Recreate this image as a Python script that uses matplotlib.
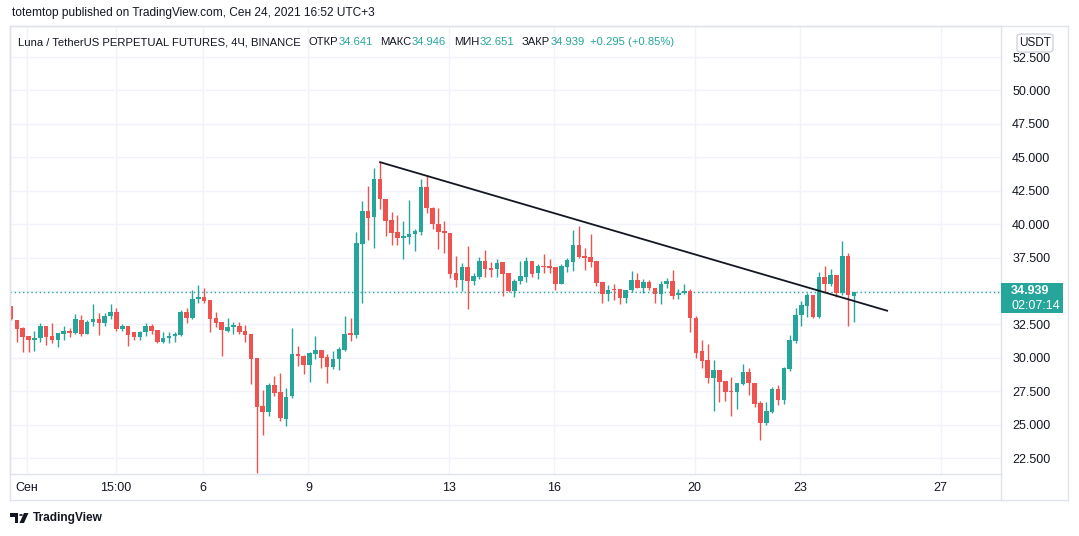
import matplotlib.pyplot as plt
import numpy as np
from matplotlib.patches import Rectangle, FancyBboxPatch, Circle, Polygon
from matplotlib.lines import Line2D

# 4H candles, LUNA/USDT perpetual, ~Aug 31 - Sep 24 2021
opens = [33.87, 32.83, 32.23, 31.63, 31.33, 31.45, 32.38, 31.60, 31.33, 31.80,
         32.00, 31.88, 32.83, 31.80, 32.70, 32.90, 32.63, 33.15, 33.40, 32.18,
         32.38, 31.90, 31.58, 31.90, 32.38, 32.10, 31.18, 31.48, 31.63, 31.70,
         33.40, 33.00, 34.40, 34.55, 34.33, 32.98, 32.70, 32.03, 32.33, 32.38,
         31.98, 31.78, 29.96, 26.40, 25.97, 27.94, 27.44, 25.40, 27.15, 30.30,
         30.12, 29.46, 30.30, 30.60, 30.03, 29.33, 29.90, 30.60, 31.88, 31.70,
         38.50, 40.98, 40.55, 43.37, 41.88, 40.30, 39.41, 38.99, 39.06, 39.26,
         39.43, 42.78, 41.23, 40.01, 39.51, 39.31, 36.36, 35.81, 36.76, 35.72,
         36.07, 37.24, 36.72, 36.67, 37.16, 36.36, 35.02, 35.72, 36.07, 37.24,
         36.32, 36.87, 36.87, 36.82, 35.52, 36.82, 37.16, 38.44, 37.61, 37.54,
         37.24, 35.69, 34.74, 35.14, 35.12, 34.50, 35.04, 35.82, 35.24, 35.69,
         35.24, 34.80, 35.52, 35.77, 34.67, 34.82, 34.97, 33.00, 30.51, 29.83,
         28.50, 29.08, 28.26, 27.51, 27.44, 28.04, 28.94, 28.14, 26.64, 25.15,
         25.97, 27.69, 26.84, 29.14, 31.26, 33.20, 33.90, 34.70, 33.08, 36.07,
         35.52, 36.22, 34.84, 37.61, 34.641]
highs = [33.90, 32.83, 32.30, 31.63, 32.00, 32.63, 32.38, 32.60, 31.85, 32.40,
         32.20, 33.30, 33.20, 32.83, 34.00, 33.35, 33.35, 34.00, 33.70, 32.50,
         32.38, 31.95, 32.00, 32.60, 32.50, 32.10, 31.90, 31.95, 31.90, 33.55,
         33.70, 35.10, 35.45, 35.20, 34.33, 33.40, 32.70, 32.95, 32.70, 32.70,
         32.45, 31.78, 30.00, 27.60, 28.10, 28.60, 28.85, 27.75, 32.25, 30.90,
         30.20, 30.40, 31.60, 30.60, 30.30, 30.50, 30.83, 33.15, 32.98, 39.43,
         41.70, 42.85, 44.17, 44.67, 41.88, 40.93, 40.68, 40.23, 41.80, 39.60,
         43.37, 43.67, 41.30, 41.18, 40.23, 39.31, 37.64, 37.10, 38.36, 36.32,
         37.52, 38.06, 37.19, 37.39, 37.16, 36.36, 35.87, 37.24, 37.52, 37.24,
         36.99, 37.74, 37.40, 36.82, 37.00, 37.49, 39.56, 39.86, 38.24, 39.26,
         37.24, 35.69, 35.44, 35.49, 35.12, 35.10, 36.49, 36.32, 35.89, 35.82,
         35.24, 35.74, 35.97, 36.57, 35.14, 35.52, 35.14, 33.13, 31.33, 31.00,
         29.83, 29.08, 28.26, 28.54, 28.11, 29.54, 29.21, 28.14, 26.79, 26.72,
         27.79, 27.99, 29.33, 31.70, 33.70, 34.27, 34.82, 34.72, 36.42, 36.87,
         36.64, 36.22, 38.74, 37.80, 34.946]
lows = [32.85, 31.18, 30.46, 30.46, 30.50, 31.18, 30.95, 31.10, 30.83, 31.33,
        31.55, 31.80, 31.60, 31.80, 32.40, 31.70, 32.40, 32.90, 32.03, 32.03,
        30.90, 31.30, 31.30, 31.65, 31.80, 31.08, 31.08, 31.10, 31.20, 31.60,
        32.60, 32.90, 34.10, 34.10, 31.95, 32.30, 30.10, 31.90, 31.80, 31.80,
        31.20, 28.05, 21.40, 24.20, 25.65, 27.15, 25.30, 24.90, 26.97, 29.35,
        28.80, 28.20, 29.90, 29.26, 28.14, 29.16, 29.10, 30.50, 31.28, 31.50,
        34.08, 38.80, 38.24, 41.10, 39.10, 38.44, 38.44, 37.41, 38.50, 38.00,
        39.18, 40.85, 39.60, 38.14, 37.80, 35.99, 35.32, 35.02, 33.63, 35.44,
        35.90, 36.07, 36.07, 36.07, 34.62, 34.90, 34.57, 35.52, 35.64, 36.07,
        35.87, 36.32, 36.32, 35.07, 35.50, 36.44, 36.49, 37.50, 36.57, 36.82,
        35.40, 34.12, 34.25, 34.32, 34.05, 34.12, 34.90, 35.20, 34.82, 35.07,
        34.12, 34.00, 35.20, 34.37, 34.37, 34.75, 31.95, 30.00, 29.26, 28.14,
        26.04, 26.72, 26.79, 25.67, 26.17, 27.94, 27.22, 26.34, 23.85, 24.97,
        25.90, 26.47, 26.57, 29.04, 31.13, 32.38, 33.08, 33.00, 33.00, 34.94,
        35.40, 34.57, 34.70, 32.38, 32.651]
closes = [32.90, 32.18, 31.58, 31.33, 31.48, 32.38, 31.58, 31.33, 31.85, 32.00,
          31.88, 32.90, 31.80, 32.70, 32.90, 32.63, 33.15, 33.40, 32.18, 32.38,
          31.73, 31.58, 31.90, 32.38, 32.03, 31.18, 31.48, 31.63, 31.78, 33.40,
          33.00, 34.40, 34.55, 34.27, 32.93, 32.63, 32.10, 32.33, 32.45, 31.95,
          31.70, 29.90, 26.34, 25.95, 27.94, 27.40, 25.50, 27.10, 30.30, 30.10,
          29.46, 30.38, 30.60, 30.00, 29.33, 29.90, 30.66, 31.78, 31.73, 38.60,
          40.98, 40.48, 43.37, 41.86, 40.26, 39.36, 38.99, 39.13, 39.26, 39.51,
          42.78, 41.18, 39.99, 39.43, 39.31, 36.29, 35.81, 36.76, 35.72, 36.12,
          37.24, 36.67, 36.57, 37.11, 36.27, 35.02, 35.74, 36.12, 37.24, 36.27,
          36.87, 36.82, 36.74, 35.52, 36.90, 37.31, 38.44, 37.56, 37.49, 37.16,
          35.62, 34.74, 35.09, 35.04, 34.50, 35.04, 35.82, 35.24, 35.64, 35.20,
          34.80, 35.52, 35.77, 34.62, 34.85, 34.97, 32.95, 30.38, 29.76, 28.50,
          29.08, 28.21, 27.46, 27.44, 28.11, 28.94, 28.09, 26.54, 25.15, 26.02,
          27.69, 26.84, 29.21, 31.33, 33.20, 33.95, 34.70, 33.08, 36.07, 35.52,
          36.22, 34.87, 37.61, 34.67, 34.939]

tick_pos = [2.75, 17.9, 32.8, 50.8, 74.8, 92.8, 116.8, 134.8, 158.8]
tick_labels = ['Сен', '15:00', '6', '9', '13', '16', '20', '23', '27']
price_ticks = [22.5, 25.0, 27.5, 30.0, 32.5, 35.0, 37.5, 40.0, 42.5, 45.0, 47.5, 50.0, 52.5]
trend_x = [62.9, 149.8]
trend_y = [44.65, 33.5]
last_price = 34.939
countdown = '02:07:14'

title = 'totemtop published on TradingView.com, Сен 24, 2021 16:52 UTC+3'
legend_parts = [('Luna / TetherUS PERPETUAL FUTURES, 4Ч, BINANCE', 'dark'),
                ('ОТКР', 'dark'), ('34.641', 'green'),
                ('МАКС', 'dark'), ('34.946', 'green'),
                ('МИН', 'dark'), ('32.651', 'green'),
                ('ЗАКР', 'dark'), ('34.939', 'green'),
                ('+0.295 (+0.85%)', 'green')]

GREEN = '#26a69a'
RED = '#ef5350'
DARK = '#131722'
GRID = '#f0f3fa'
LINE = '#e0e3eb'

plt.rcParams['font.family'] = ['Liberation Sans', 'DejaVu Sans']

W, H = 1079, 536
fig = plt.figure(figsize=(W / 100, H / 100), dpi=100)
fig.patch.set_facecolor('white')

# plot pane: x 10..1001 px, y 26..474 px
ax = fig.add_axes([10 / W, 1 - 474 / H, (1001 - 10) / W, (474 - 26) / H])
px = 0.07481  # price per pixel
ax.set_ylim(52.5 - (474 - 57) * px, 52.5 + (57 - 26) * px)
ax.set_xlim(-0.17, 169.1)

o = np.array(opens)
h = np.array(highs)
l = np.array(lows)
c = np.array(closes)
x = np.arange(len(o))
cols = np.where(c >= o, GREEN, RED)

ax.vlines(x, l, h, colors=cols, lw=1, zorder=2)
ax.bar(x, np.maximum(np.abs(c - o), 0.08), bottom=np.minimum(o, c), width=0.78,
       color=cols, linewidth=0, zorder=3)

ax.axhline(last_price, color=GREEN, lw=1, linestyle=(0, (1, 2)), zorder=1)
ax.plot(trend_x, trend_y, color='#131722', lw=1.3, zorder=4, solid_capstyle='butt')

ax.set_axisbelow(True)
ax.grid(color=GRID, lw=1)
ax.yaxis.tick_right()
ax.set_yticks(price_ticks)
ax.set_yticklabels(['' if abs(p - last_price) < 1 else f'{p:.3f}' for p in price_ticks])
ax.set_xticks(tick_pos)
ax.set_xticklabels(tick_labels)
ax.tick_params(axis='y', length=0, pad=8, labelsize=9, labelcolor=DARK)
ax.tick_params(axis='x', length=0, pad=6, labelsize=9, labelcolor=DARK)
for s in ax.spines.values():
    s.set_color(LINE)
    s.set_linewidth(1)

# outer frame (time scale + price scale areas)
fx = lambda v: v / W
fy = lambda v: 1 - v / H
for xs, ys in [([10, 1068], [26, 26]), ([10, 1068], [500, 500]),
               ([10, 10], [26, 500]), ([1068, 1068], [26, 500]),
               ([1001, 1001], [474, 500])]:
    fig.add_artist(Line2D([fx(v) for v in xs], [fy(v) for v in ys], color=LINE, lw=1))

# current price label
fig.add_artist(Rectangle((fx(1001), fy(313)), 62 / W, 30 / H, color=GREEN, lw=0, zorder=5))
fig.text(fx(1011), fy(291), f'{last_price:.3f}', color='white', fontsize=9,
         fontweight='bold', va='center', ha='left', zorder=6)
fig.text(fx(1011), fy(306), countdown, color='white', fontsize=9,
         va='center', ha='left', zorder=6)

# currency box
fig.add_artist(FancyBboxPatch((fx(1017), fy(52)), 36 / W, 18 / H,
                              boxstyle='round,pad=0,rounding_size=0.004',
                              fc='white', ec='#d1d4dc', lw=1, zorder=5))
fig.text(fx(1035), fy(43), 'USDT', color=DARK, fontsize=8.5, ha='center', va='center', zorder=6)

fig.canvas.draw()
renderer = fig.canvas.get_renderer()


def fit_text(xp, yp, s, target_w, size, **kw):
    t = fig.text(fx(xp), fy(yp), s, fontsize=size, va='center', ha='left', **kw)
    w = t.get_window_extent(renderer).width
    t.set_fontsize(size * target_w / w)
    return t


fit_text(12, 13, title, 362, 9, color=DARK)

# legend line: one common font size, pieces chained after each other
gaps = [0, 8, 0, 8, 0, 8, 0, 8, 0, 6]
texts = []
for txt, kind in legend_parts:
    t = fig.text(0, fy(42), txt, fontsize=9, va='center', ha='left',
                 color=GREEN if kind == 'green' else DARK)
    texts.append(t)
ws = [t.get_window_extent(renderer).width for t in texts]
size = 9 * (674 - 18 - sum(gaps)) / sum(ws)
xp = 18
for t, w, gap in zip(texts, ws, gaps):
    xp += gap
    t.set_x(fx(xp))
    t.set_fontsize(size)
    xp += w * size / 9

# TradingView logo
fig.add_artist(Polygon([[fx(10), fy(513)], [fx(18), fy(513)], [fx(18), fy(523)],
                        [fx(14.5), fy(523)], [fx(14.5), fy(516.5)], [fx(10), fy(516.5)]],
                       closed=True, color=DARK, lw=0))
fig.add_artist(Circle((fx(21), fy(515)), 1.8 / W, color=DARK, lw=0,
                      transform=fig.transFigure))
fig.add_artist(Polygon([[fx(24), fy(513)], [fx(28.5), fy(513)], [fx(24), fy(523)],
                        [fx(19.5), fy(523)]], closed=True, color=DARK, lw=0))
fit_text(33, 518, 'TradingView', 70, 9.5, color=DARK, fontweight='bold')

fig.savefig('out.png', dpi=100, facecolor='white')
